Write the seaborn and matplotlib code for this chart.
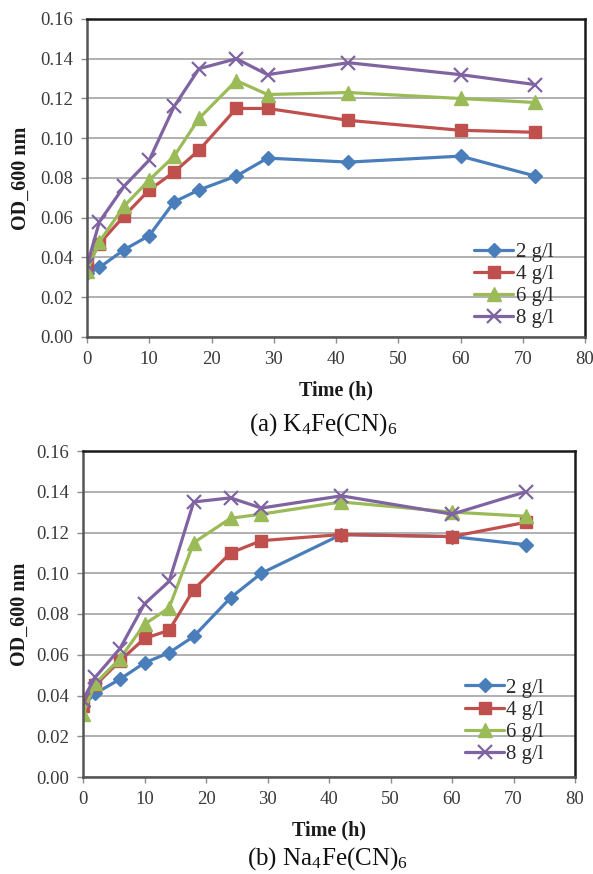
import matplotlib
matplotlib.use("Agg")
import matplotlib.pyplot as plt
import seaborn as sns
import pandas as pd

# ---------------- data ----------------
time_h = [0, 2, 6, 10, 14, 18, 24, 29, 42, 60, 72]
series_labels = ["2 g/l", "4 g/l", "6 g/l", "8 g/l"]

# (a) K4Fe(CN)6
k_2 = [0.032, 0.035, 0.044, 0.051, 0.068, 0.074, 0.081, 0.090, 0.088, 0.091, 0.081]
k_4 = [0.036, 0.047, 0.061, 0.074, 0.083, 0.094, 0.115, 0.115, 0.109, 0.104, 0.103]
k_6 = [0.033, 0.048, 0.066, 0.079, 0.091, 0.110, 0.129, 0.122, 0.123, 0.120, 0.118]
k_8 = [0.036, 0.058, 0.076, 0.089, 0.116, 0.135, 0.140, 0.132, 0.138, 0.132, 0.127]

# (b) Na4Fe(CN)6
n_2 = [0.035, 0.041, 0.048, 0.056, 0.061, 0.069, 0.088, 0.100, 0.119, 0.118, 0.114]
n_4 = [0.035, 0.045, 0.057, 0.068, 0.072, 0.092, 0.110, 0.116, 0.119, 0.118, 0.125]
n_6 = [0.031, 0.046, 0.058, 0.075, 0.083, 0.115, 0.127, 0.129, 0.135, 0.130, 0.128]
n_8 = [0.038, 0.049, 0.063, 0.085, 0.096, 0.135, 0.137, 0.132, 0.138, 0.129, 0.140]

x_ticks = [0, 10, 20, 30, 40, 50, 60, 70, 80]
y_ticks = [0.00, 0.02, 0.04, 0.06, 0.08, 0.10, 0.12, 0.14, 0.16]

caption_a = r"(a) K$_4$Fe(CN)$_6$"
caption_b = r"(b) Na$_4$Fe(CN)$_6$"

# ---------------- style ----------------
sns.set_theme(style="white")
plt.rcParams["font.family"] = ["Liberation Serif", "DejaVu Serif"]
plt.rcParams["mathtext.fontset"] = "custom"
plt.rcParams["mathtext.rm"] = "Liberation Serif"
plt.rcParams["mathtext.it"] = "Liberation Serif:italic"

colors = ["#4a7ebb", "#c0504d", "#9bbb59", "#8064a2"]
markers = ["D", "s", "^", "x"]
msizes = [7, 9, 10, 10]

fig = plt.figure(figsize=(5.93, 8.74), dpi=100)
fig.patch.set_facecolor("white")

ax_a = fig.add_axes([87 / 593, 1 - 337 / 874, 498 / 593, 318 / 874])
ax_b = fig.add_axes([83 / 593, 1 - 777 / 874, 492 / 593, 326 / 874])

tick_color = "#3a3a3a"


def draw(ax, data_lists, leg_anchor):
    for vals, lab, c, m, ms in zip(data_lists, series_labels, colors, markers, msizes):
        df = pd.DataFrame({"Time": time_h, "OD": vals})
        sns.lineplot(data=df, x="Time", y="OD", ax=ax, color=c, marker=m,
                     markersize=ms, markeredgecolor=c,
                     markeredgewidth=1.6 if m == "x" else 1.0,
                     linewidth=2.3, label=lab, sort=False)
    ax.set_xlim(0, 80)
    ax.set_ylim(0, 0.16)
    ax.set_xticks(x_ticks)
    ax.set_yticks(y_ticks)
    ax.set_xticklabels([str(v) for v in x_ticks])
    ax.set_yticklabels([f"{v:.2f}" for v in y_ticks])
    ax.yaxis.grid(True, color="#aaaaaa", linewidth=1.3)
    ax.xaxis.grid(False)
    ax.set_axisbelow(True)
    for s in ax.spines.values():
        s.set_color("#1a1a1a")
        s.set_linewidth(1.8)
    ax.spines["left"].set_color("#555555")
    ax.spines["bottom"].set_color("#555555")
    ax.tick_params(axis="both", which="major", direction="out", length=4,
                   width=1.0, color="#8c8c8c", labelsize=13.5,
                   labelcolor=tick_color, pad=6, left=True, bottom=True)
    ax.set_xlabel("Time (h)", fontsize=14.5, fontweight="bold",
                  color="#1a1a1a", labelpad=9)
    ax.set_ylabel("OD_600 nm", fontsize=14.5, fontweight="bold",
                  color="#1a1a1a")
    leg = ax.legend(loc="lower right", bbox_to_anchor=leg_anchor,
                    frameon=False, fontsize=15, handlelength=1.9,
                    handletextpad=0.1, labelspacing=0.12, borderpad=0,
                    borderaxespad=0)
    for t in leg.get_texts():
        t.set_color("#2a2a2a")


draw(ax_a, [k_2, k_4, k_6, k_8], (0.936, 0.028))
draw(ax_b, [n_2, n_4, n_6, n_8], (0.937, 0.040))

ax_a.yaxis.set_label_coords(-0.113, 0.5)
ax_b.yaxis.set_label_coords(-0.108, 0.5)

fig.text(323 / 593, 1 - 425 / 874, caption_a, ha="center", va="center",
         fontsize=18, color="#111111")
fig.text(327 / 593, 1 - 859 / 874, caption_b, ha="center", va="center",
         fontsize=18, color="#111111")

fig.savefig("out.png", dpi=100, facecolor="white")
